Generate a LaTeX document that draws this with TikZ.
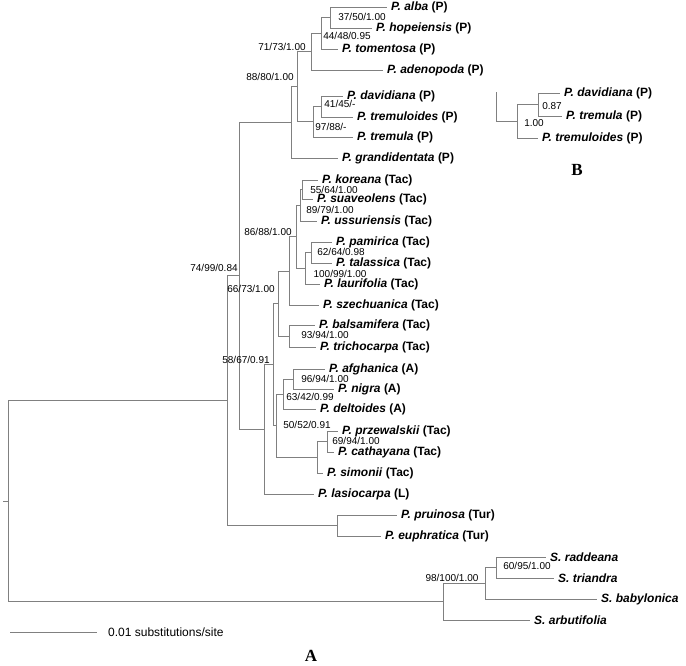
\documentclass[tikz,border=0pt]{standalone}
\usepackage{fontspec}
\setmainfont{Liberation Sans}
\newfontfamily\panelfont{Liberation Serif}
\usetikzlibrary{positioning}

\begin{document}
\begin{tikzpicture}[x=1pt,y=-1pt,
  branch/.style={gray,line width=0.75pt},
  taxon/.style={anchor=west,inner xsep=4pt,inner ysep=1pt,font=\fontsize{12}{14}\selectfont\bfseries},
  support/.style={inner sep=0pt,font=\fontsize{10}{12}\selectfont},
  panel/.style={inner sep=0pt,font=\fontsize{17}{20}\selectfont\panelfont\bfseries}]
\useasboundingbox (0,0) rectangle (686,665);
% taxa (name/line end/y/species/section)
\foreach \n/\x/\y/\sp/\g in {alba/387/7/P. alba/P, hopeiensis/372/28/P. hopeiensis/P,
  tomentosa/338/49/P. tomentosa/P, adenopoda/383/70/P. adenopoda/P,
  davidiana/343/96/P. davidiana/P, tremuloides/353/117/P. tremuloides/P,
  tremula/353/137/P. tremula/P, grandidentata/338/158/P. grandidentata/P,
  koreana/318/180/P. koreana/Tac, suaveolens/313/199/P. suaveolens/Tac,
  ussuriensis/317/221/P. ussuriensis/Tac, pamirica/332/242/P. pamirica/Tac,
  talassica/332/263/P. talassica/Tac, laurifolia/320/284/P. laurifolia/Tac,
  szechuanica/319/305/P. szechuanica/Tac, balsamifera/315/325/P. balsamifera/Tac,
  trichocarpa/316/347/P. trichocarpa/Tac, afghanica/325/369/P. afghanica/A,
  nigra/334/389/P. nigra/A, deltoides/316/409/P. deltoides/A,
  przewalskii/338/431/P. przewalskii/Tac, cathayana/334/452/P. cathayana/Tac,
  simonii/323/473/P. simonii/Tac, lasiocarpa/314/494/P. lasiocarpa/L,
  pruinosa/397/515/P. pruinosa/Tur, euphratica/381/536/P. euphratica/Tur,
  bdavidiana/560/93/P. davidiana/P, btremula/562/116/P. tremula/P,
  btremuloides/538/138/P. tremuloides/P}
  {\node[taxon] (\n) at (\x,\y) {\textit{\sp} (\g)};}
\foreach \n/\x/\y/\sp in {raddeana/546/557/S. raddeana, triandra/554/578/S. triandra,
  babylonica/597/599/S. babylonica, arbutifolia/530/620/S. arbutifolia}
  {\node[taxon] (\n) at (\x,\y) {\textit{\sp}};}
% internal nodes
\foreach \n/\x/\y in {ah/330/17.5, aht/321/33.25, ahta/311/51.6, dt/321/106.5, dtt/313/121.75,
  pa/297/86.7, pb/291/122.3, ks/302/189.5, ksu/300/205.25, pt/311/252.5, ptl/305/268.25,
  kl/296/236.75, kls/289/270.9, bt/289/336, ta/278/303.4, an/293/379, anl/283/394,
  pc/327/441.5, pcs/317/457.25, ap/276/425.6, tb/273/364.5, tc/264/429.25, pop/239/275.8,
  tur/337/525.5, popall/227/400.6, rt/496/567.5, rtb/485/583.25, sal/443/601.6,
  root/8/501.1, stub/3/501.1, bdt/538/104.5, bdtt/517/121.25, btop/496/92}
  {\coordinate (\n) at (\x,\y);}
% branches
\foreach \a/\b in {aht/ah, ahta/aht, pa/ahta, dtt/dt, pa/dtt, pb/pa, pop/pb, ksu/ks, kl/ksu,
  ptl/pt, kl/ptl, kls/kl, ta/kls, ta/bt, tb/ta, anl/an, ap/anl, pcs/pc, ap/pcs, tb/ap, tc/tb,
  pop/tc, popall/pop, popall/tur, rtb/rt, sal/rtb, root/popall, root/sal, bdtt/bdt, btop/bdtt}
  {\draw[branch] (\a) |- (\b);}
\foreach \a/\b in {ah/alba, ah/hopeiensis, aht/tomentosa, ahta/adenopoda, dt/davidiana,
  dt/tremuloides, dtt/tremula, pb/grandidentata, ks/koreana, ks/suaveolens, ksu/ussuriensis,
  pt/pamirica, pt/talassica, ptl/laurifolia, kls/szechuanica, bt/balsamifera, bt/trichocarpa,
  an/afghanica, an/nigra, anl/deltoides, pc/przewalskii, pc/cathayana, pcs/simonii,
  tc/lasiocarpa, tur/pruinosa, tur/euphratica, rt/raddeana, rt/triandra, rtb/babylonica,
  sal/arbutifolia, bdt/bdavidiana, bdt/btremula, bdtt/btremuloides}
  {\draw[branch] (\a) |- (\b.west);}
\draw[branch] (stub) -- (root);
% support values
\foreach \x/\y/\t [count=\i] in {362/17/{37/50/1.00}, 347/36/{44/48/0.95}, 282/47/{71/73/1.00},
  270/77/{88/80/1.00}, 340/104/{41/45/-}, 331/127/{97/88/-}, 334/189.5/{55/64/1.00},
  330/210/{89/79/1.00}, 268/232/{86/88/1.00}, 341/252/{62/64/0.98}, 340/273.5/{100/99/1.00},
  214/268/{74/99/0.84}, 251/289/{66/73/1.00}, 246/360/{58/67/0.91}, 325/335/{93/94/1.00},
  325/379/{96/94/1.00}, 310/397/{63/42/0.99}, 307/425/{50/52/0.91}, 356/441/{69/94/1.00},
  452/578/{98/100/1.00}, 527/566/{60/95/1.00}, 552/106/{0.87}, 534/123/{1.00}}
  {\node[support] (s\i) at (\x,\y) {\t};}
% scale bar
\coordinate (sb0) at (10,632);
\coordinate (sb1) at (97,632);
\draw[branch] (sb0) -- (sb1);
\node[support,anchor=west,font=\fontsize{12}{14}\selectfont] (sbtext) at (108,632) {0.01 substitutions/site};
\node[panel] (panelA) at (311,656) {A};
\node[panel] (panelB) at (577,170) {B};
\end{tikzpicture}
\end{document}
